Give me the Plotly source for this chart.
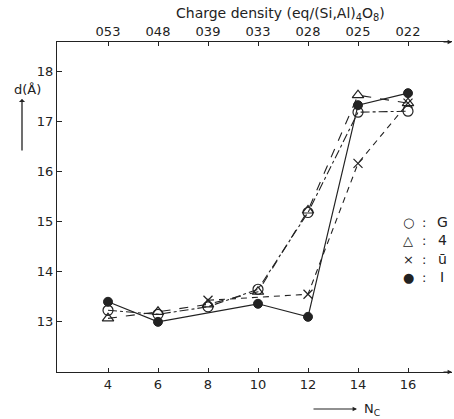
import plotly.graph_objects as go

# Data
nc = [4, 6, 8, 10, 12, 14, 16]
top_labels = ["053", "048", "039", "033", "028", "025", "022"]
y_ticks = [13, 14, 15, 16, 17, 18]

g_x = [4, 6, 8, 10, 12, 14, 16]
g_y = [13.23, 13.15, 13.3, 13.65, 15.18, 17.18, 17.2]

t_x = [4, 6, 8, 10, 12, 14, 16]
t_y = [13.07, 13.2, 13.35, 13.6, 15.22, 17.52, 17.36]

x_x = [8, 12, 14, 16]
x_y = [13.43, 13.55, 16.16, 17.36]

i_x = [4, 6, 10, 12, 14, 16]
i_y = [13.4, 13.0, 13.36, 13.1, 17.32, 17.56]

FONT = "DejaVu Sans"
INK = "#222"

fig = go.Figure()
fig.add_trace(go.Scatter(x=g_x, y=g_y, mode="lines+markers",
                         line=dict(color=INK, width=1.1, dash="dashdot"),
                         marker=dict(symbol="circle-open", size=10, color=INK, line=dict(width=1.2))))
fig.add_trace(go.Scatter(x=t_x, y=t_y, mode="lines+markers",
                         line=dict(color=INK, width=1.1, dash="dash"),
                         marker=dict(symbol="triangle-up-open", size=10, color=INK, line=dict(width=1.2))))
fig.add_trace(go.Scatter(x=x_x, y=x_y, mode="lines+markers",
                         line=dict(color=INK, width=1.1, dash="6px,5px"),
                         marker=dict(symbol="x-thin-open", size=9, color=INK, line=dict(width=1.2, color=INK))))
fig.add_trace(go.Scatter(x=i_x, y=i_y, mode="lines+markers",
                         line=dict(color=INK, width=1.2),
                         marker=dict(symbol="circle", size=9, color=INK, line=dict(width=1, color=INK))))
# invisible trace to activate the top axis
fig.add_trace(go.Scatter(x=nc, y=[None] * len(nc), xaxis="x2", showlegend=False, hoverinfo="skip"))

xr = [1.96, 17.76]
fig.update_layout(
    width=454, height=419,
    margin=dict(l=57, r=2, t=42, b=47),
    paper_bgcolor="white", plot_bgcolor="white",
    showlegend=False,
    font=dict(family=FONT, size=13, color=INK),
    xaxis=dict(range=xr, tickvals=nc, ticktext=[str(v) for v in nc],
               showline=True, linecolor=INK, linewidth=1.2, showgrid=False, zeroline=False,
               ticks="inside", ticklen=4, tickcolor=INK, tickfont=dict(size=13)),
    xaxis2=dict(range=xr, overlaying="x", side="top", tickvals=nc, ticktext=top_labels,
                showline=True, linecolor=INK, linewidth=1.2, showgrid=False, zeroline=False,
                ticks="inside", ticklen=4, tickcolor=INK, tickfont=dict(size=13)),
    yaxis=dict(range=[12, 18.58], tickvals=y_ticks, ticktext=[str(v) for v in y_ticks],
               showline=True, linecolor=INK, linewidth=1.2, showgrid=False, zeroline=False,
               ticks="inside", ticklen=5, tickcolor=INK, tickfont=dict(size=13)),
)

def px(x):
    return (x - 57) / 395

def py(y):
    return (372 - y) / 330

ann = []
# top title
ann.append(dict(text="Charge density (eq/(Si,Al)<sub>4</sub>O<sub>8</sub>)", x=px(280), y=py(14),
                xref="paper", yref="paper", xanchor="center", yanchor="middle", showarrow=False,
                font=dict(size=14, color=INK)))
# y label and arrow
ann.append(dict(text="d(Å)", x=px(27), y=py(89), xref="paper", yref="paper",
                xanchor="center", yanchor="middle",
                showarrow=False, font=dict(size=13, color=INK)))
ann.append(dict(text="", x=px(22), y=py(99), xref="paper", yref="paper",
                showarrow=True, ax=0, ay=53, arrowhead=1, arrowsize=0.8, arrowwidth=1.3, arrowcolor=INK))
# bottom arrow and Nc
ann.append(dict(text="", x=px(357), y=py(409), xref="paper", yref="paper",
                showarrow=True, ax=-45, ay=0, arrowhead=2, arrowsize=0.8, arrowwidth=1.1, arrowcolor=INK))
ann.append(dict(text="N<sub>C</sub>", x=px(362), y=py(409), xref="paper", yref="paper",
                xanchor="left", yanchor="middle", showarrow=False, font=dict(size=13, color=INK)))
# axis end arrows
for yy in (0, 1):
    ann.append(dict(text="", x=1.0, y=yy, xref="paper", yref="paper",
                    showarrow=True, ax=-10, ay=0, arrowhead=2, arrowsize=0.8, arrowwidth=1.1, arrowcolor=INK))
# legend
leg_sym = ["○", "△", "×", "●"]
leg_txt = ["G", "4", "ū", "I"]
leg_y = [222, 240, 259, 277]
for s, t, yy in zip(leg_sym, leg_txt, leg_y):
    for txt, xx, sz in ((s, 408, 13), (":", 424, 13), (t, 442, 14)):
        ann.append(dict(text=txt, x=px(xx), y=py(yy), xref="paper", yref="paper",
                        xanchor="center", yanchor="middle",
                        showarrow=False, font=dict(size=sz, color=INK)))
fig.update_layout(annotations=ann)

fig.write_html("out.html")
